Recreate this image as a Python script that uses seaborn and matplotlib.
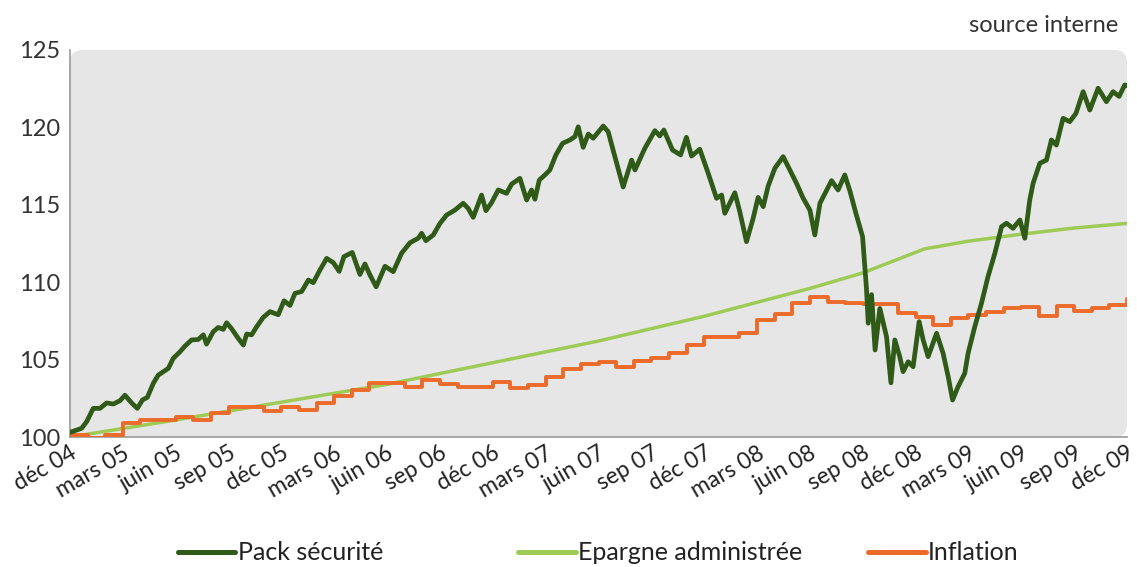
import numpy as np
import pandas as pd
import seaborn as sns
import matplotlib.pyplot as plt
from matplotlib.patches import FancyBboxPatch, Rectangle
from matplotlib.lines import Line2D

# mois depuis déc 04 (0 = déc 04, 60 = déc 09)
pack_mois = [0.0, 0.66, 0.95, 1.32, 1.7, 2.08, 2.46, 2.84, 3.12, 3.5, 3.82, 4.12, 4.39, 4.73, 5.01,
             5.58, 5.86, 6.24, 6.53, 6.9, 7.28, 7.57, 7.75, 8.13, 8.42, 8.7, 8.89, 9.17, 9.55, 9.84,
             10.03, 10.31, 10.6, 10.97, 11.35, 11.82, 12.15, 12.49, 12.77, 13.15, 13.53, 13.81, 14.19,
             14.57, 14.95, 15.28, 15.55, 16.02, 16.46, 16.74, 17.03, 17.38, 17.88, 18.35, 18.82, 19.3,
             19.77, 19.96, 20.2, 20.62, 21.0, 21.38, 21.85, 22.32, 22.6, 22.89, 23.36, 23.61, 23.93,
             24.31, 24.78, 25.07, 25.54, 25.92, 26.2, 26.39, 26.64, 26.96, 27.24, 27.58, 27.96, 28.38,
             28.66, 28.85, 29.13, 29.42, 29.7, 30.27, 30.55, 30.93, 31.4, 31.88, 32.07, 32.63, 33.2,
             33.48, 33.71, 34.2, 34.66, 34.99, 35.28, 35.75, 36.23, 36.7, 36.99, 37.17, 37.74, 38.02,
             38.4, 38.78, 39.06, 39.35, 39.63, 40.01, 40.48, 40.77, 41.24, 41.62, 42.0, 42.28, 42.57,
             43.23, 43.6, 43.98, 44.27, 44.6, 44.99, 45.12, 45.21, 45.31, 45.5, 45.7, 45.97, 46.35,
             46.6, 46.82, 47.1, 47.29, 47.58, 47.86, 48.2, 48.43, 48.71, 49.19, 49.56, 49.85, 50.1,
             50.41, 50.79, 50.98, 51.36, 51.74, 52.11, 52.5, 52.88, 53.16, 53.53, 53.92, 54.2, 54.48,
             54.67, 55.05, 55.43, 55.71, 55.99, 56.37, 56.75, 57.1, 57.51, 57.89, 58.36, 58.83, 59.21,
             59.55, 59.87, 60.0]
pack_valeur = [100.3, 100.56, 101.0, 101.85, 101.85, 102.2, 102.13, 102.35, 102.7, 102.2, 101.85, 102.4,
               102.56, 103.47, 104.0, 104.43, 105.08, 105.5, 105.88, 106.27, 106.3, 106.6, 106.0, 106.8,
               107.08, 106.95, 107.38, 107.0, 106.37, 105.94, 106.65, 106.6, 107.13, 107.73, 108.1,
               107.9, 108.8, 108.5, 109.28, 109.4, 110.14, 109.97, 110.79, 111.54, 111.26, 110.7,
               111.65, 111.92, 110.5, 111.18, 110.46, 109.7, 111.03, 110.68, 111.87, 112.55, 112.84,
               113.16, 112.68, 113.05, 113.8, 114.34, 114.66, 115.1, 114.77, 114.19, 115.63, 114.62,
               115.14, 115.96, 115.74, 116.34, 116.71, 115.31, 115.96, 115.36, 116.6, 116.93, 117.25,
               118.22, 118.97, 119.19, 119.4, 120.04, 118.71, 119.57, 119.3, 120.09, 119.72, 118.11,
               116.15, 117.89, 117.25, 118.65, 119.79, 119.45, 119.83, 118.54, 118.22, 119.36, 118.15,
               118.59, 117.03, 115.42, 115.63, 114.45, 115.78, 114.55, 112.62, 114.13, 115.48, 114.88,
               116.21, 117.36, 118.11, 117.46, 116.39, 115.42, 114.66, 113.05, 115.1, 116.56, 115.96,
               116.93, 115.9, 114.5, 112.94, 111.0, 109.6, 107.35, 109.2, 105.62, 108.3, 106.48, 103.5,
               106.27, 105.19, 104.22, 104.86, 104.54, 107.45, 106.27, 105.19, 106.7, 105.41, 103.9,
               102.39, 103.25, 104.11, 105.41, 107.13, 108.64, 110.36, 111.87, 113.59, 113.81, 113.48,
               114.02, 112.84, 115.31, 116.39, 117.68, 117.89, 119.19, 118.86, 120.59, 120.37, 120.9,
               122.31, 121.12, 122.53, 121.66, 122.31, 122.0, 122.74, 122.7]

epargne_mois = [0, 6, 12, 18, 24, 30, 36, 42, 45, 48.5, 51, 54, 57, 60]
epargne_valeur = [100.0, 101.1, 102.25, 103.4, 104.8, 106.2, 107.8, 109.6, 110.6, 112.15, 112.65,
                  113.1, 113.5, 113.8]

inflation_valeur = [100.13, 99.95, 100.13, 100.88, 101.1, 101.1, 101.3, 101.1, 101.57, 101.96, 101.96,
                    101.7, 101.92, 101.74, 102.22, 102.65, 103.04, 103.5, 103.5, 103.25, 103.68, 103.42,
                    103.2, 103.25, 103.57, 103.16, 103.36, 103.85, 104.37, 104.71, 104.86, 104.5, 104.9,
                    105.1, 105.4, 105.97, 106.46, 106.46, 106.7, 107.56, 107.97, 108.64, 109.02, 108.74,
                    108.68, 108.6, 108.6, 107.99, 107.73, 107.24, 107.67, 107.88, 108.05, 108.31, 108.42,
                    107.82, 108.46, 108.16, 108.31, 108.53, 108.9]
inflation_mois = list(range(len(inflation_valeur)))

tick_labels = ['déc 04', 'mars 05', 'juin 05', 'sep 05', 'déc 05', 'mars 06', 'juin 06', 'sep 06',
               'déc 06', 'mars 07', 'juin 07', 'sep 07', 'déc 07', 'mars 08', 'juin 08', 'sep 08',
               'déc 08', 'mars 09', 'juin 09', 'sep 09', 'déc 09']

VERT_FONCE = '#2f5a17'
VERT_CLAIR = '#9dcb56'
ORANGE = '#ec6a2a'
GRIS = '#9a9a9a'

sns.set_style("white")
plt.rcParams['font.family'] = ['Lato', 'DejaVu Sans']

fig = plt.figure(figsize=(11.37, 5.67), dpi=100)
ax = fig.add_axes([70 / 1137, 130 / 567, 1057 / 1137, 387 / 567])
ax.set_facecolor('none')

# fond gris arrondi
fond = FancyBboxPatch((0, 0), 1, 1, boxstyle="round,pad=0,rounding_size=0.012",
                      mutation_aspect=1057 / 387, transform=ax.transAxes,
                      facecolor='#e6e6e6', edgecolor='none', zorder=0)
ax.add_patch(fond)
ax.add_patch(Rectangle((0, 0), 0.05, 0.1, transform=ax.transAxes,
                       facecolor='#e6e6e6', edgecolor='none', zorder=0))

sns.lineplot(x=epargne_mois, y=epargne_valeur, ax=ax, color=VERT_CLAIR, lw=2.5, zorder=3)
sns.lineplot(x=inflation_mois, y=inflation_valeur, ax=ax, color=ORANGE, lw=2.8,
             drawstyle='steps-post', zorder=4)
sns.lineplot(x=pack_mois, y=pack_valeur, ax=ax, color=VERT_FONCE, lw=3.4, zorder=5)

ax.set_xlim(0, 60)
ax.set_ylim(100, 125)
ax.set_xticks(np.arange(0, 61, 3))
ax.set_xticklabels(tick_labels, rotation=30, ha='right', va='top', rotation_mode='anchor',
                   fontsize=16.5, color='#222222')
ax.set_yticks([100, 105, 110, 115, 120, 125])
ax.tick_params(axis='y', direction='in', length=4, color=GRIS, labelsize=17,
               labelcolor='#333333', pad=7)
ax.tick_params(axis='x', direction='in', length=8, color=GRIS, pad=4)
ax.set_xlabel('')
ax.set_ylabel('')

for cote in ['top', 'right']:
    ax.spines[cote].set_visible(False)
for cote in ['left', 'bottom']:
    ax.spines[cote].set_color(GRIS)
    ax.spines[cote].set_linewidth(1.2)

fig.text(1118 / 1137, 1 - 25 / 567, 'source interne', ha='right', va='center',
         fontsize=17, color='#333333')

# légende en bas, trois entrées placées séparément
entrees = [('Pack sécurité', VERT_FONCE, 178),
           ('Epargne administrée', VERT_CLAIR, 518),
           ('Inflation', ORANGE, 868)]
for texte, couleur, xpix in entrees:
    h = Line2D([], [], color=couleur, lw=3.6)
    fig.legend(handles=[h], labels=[texte], loc='center left',
               bbox_to_anchor=(xpix / 1137, 14 / 567), frameon=False,
               handlelength=2.3, handletextpad=0.1, borderpad=0, borderaxespad=0,
               prop={'size': 18}, labelcolor='#222222')

fig.savefig('out.png', dpi=100)
